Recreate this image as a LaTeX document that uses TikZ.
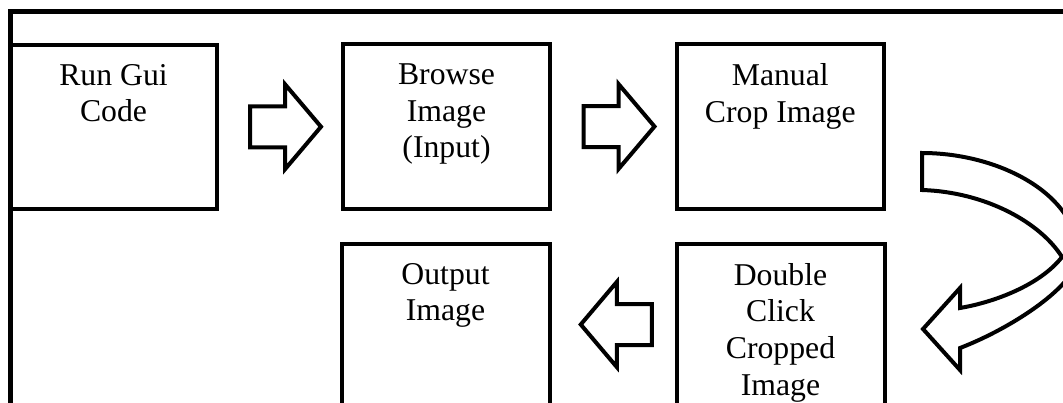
\documentclass[tikz,border=0pt]{standalone}
\usepackage{fontspec}
\setmainfont{Liberation Serif}
\usetikzlibrary{calc}
\def\upx{0.75pt}
\tikzset{
  box/.style={draw, line width=3pt, rectangle, inner sep=0pt, outer sep=0pt,
    minimum width=207*\upx, minimum height=164*\upx, anchor=north west},
  lbl/.style={align=center, inner sep=0pt, outer sep=0pt, anchor=north,
    font=\fontsize{23.8}{27.5}\selectfont},
  framestyle/.style={line width=3.75pt, line join=miter},
  blk/.style={draw, line width=3pt, line join=miter, fill=white},
  rarr/.pic={\path[blk] (-35.5,-20.5) -- (-0.5,-20.5) -- (-0.5,-42.5) -- (35.5,0)
      -- (-0.5,42.5) -- (-0.5,20.5) -- (-35.5,20.5) -- cycle;}
}
\begin{document}
\begin{tikzpicture}[x=0.75pt, y=-0.75pt]
\useasboundingbox (0,0) rectangle (1063,403);
\fill[white] (0,0) rectangle (1063,403);
\begin{scope}
\clip (0,0) rectangle (1063,403);
% outer frame (top and left)
\draw[framestyle] (10,420) -- (10,12) -- (1080,12);
% boxes
\node[box] (b1) at (10,45) {};
\node[box] (b2) at (343,44.5) {};
\node[box, minimum width=207.5*\upx] (b3) at (676.5,44.5) {};
\node[box, minimum width=208*\upx] (b4) at (341.5,244) {};
\node[box, minimum width=208*\upx] (b5) at (676.5,244) {};
% labels
\node[lbl] (t1) at ($(b1.north)+(0,19.3)$) {Run Gui\\Code};
\node[lbl] (t2) at ($(b2.north)+(0,19.3)$) {Browse\\Image\\(Input)};
\node[lbl] (t3) at ($(b3.north)+(0,19.3)$) {Manual\\Crop Image};
\node[lbl] (t4) at ($(b4.north)+(0,19.3)$) {Output\\Image};
\node[lbl] (t5) at ($(b5.north)+(0,19.3)$) {Double\\Click\\Cropped\\Image};
% block arrows
\pic at ($(b1.east)!0.5!(b2.west)+(5.5,0)$) {rarr};
\pic at ($(b2.east)!0.5!(b3.west)+(5.75,0)$) {rarr};
\pic[xscale=-1] at ($(b4.east)!0.5!(b5.west)+(3.25,-1.5)$) {rarr};
% curved arrow from b3 down to b5
\begin{scope}[shift={(b3.north east)}]
\path[blk] (38,108.5)
  .. controls (116,108.5) and (194,150.5) .. (194,210.5)
  .. controls (194,240.5) and (128,283.5) .. (76,303.5)
  -- (76,325.5) -- (39,284.5) -- (76,243.5) -- (76,263.5)
  .. controls (111,257.5) and (156,240.5) .. (178,212.5)
  .. controls (156,177.5) and (101,147.5) .. (38,145.5)
  -- cycle;
\end{scope}
\end{scope}
\end{tikzpicture}
\end{document}
